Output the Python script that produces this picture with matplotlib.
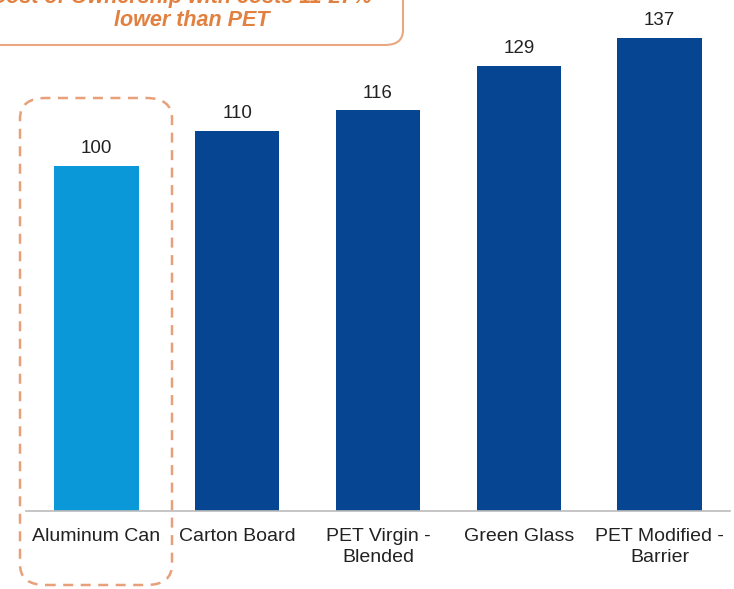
import matplotlib.pyplot as plt
from matplotlib.patches import FancyBboxPatch

categories = ["Aluminum Can", "Carton Board", "PET Virgin -\nBlended", "Green Glass", "PET Modified -\nBarrier"]
values = [100, 110, 116, 129, 137]
colors = ["#0A98D8", "#054591", "#054591", "#054591", "#054591"]
note_top = "Lowest Total Cost of Ownership with costs 11-27%"
note_bottom = "lower than PET"

W, H = 734, 589
fig = plt.figure(figsize=(W / 100, H / 100), dpi=100)
ax = fig.add_axes([26 / W, (H - 511) / H, 704 / W, 511 / H])

x = range(len(categories))
ax.bar(x, values, width=0.6, color=colors)
for i, v in enumerate(values):
    ax.text(i, v + 2.6, str(v), ha="center", va="bottom", fontsize=13.5, color="#222222",
            family="Liberation Sans")

ax.set_xlim(-0.5, 4.5)
ax.set_ylim(0, 148)
ax.set_xticks(list(x))
ax.set_xticklabels(categories, fontsize=14, family="Liberation Sans", color="#222222",
                   linespacing=1.3)
ax.tick_params(axis="x", length=0, pad=12)
ax.set_yticks([])
for s in ["top", "left", "right"]:
    ax.spines[s].set_visible(False)
ax.spines["bottom"].set_color("#BBBBBB")
ax.spines["bottom"].set_linewidth(1.2)

# callout box at the top (partially cut off)
def px(x0, y0):
    return x0 / W, 1 - y0 / H

bx, by = px(-20, 45)
box = FancyBboxPatch((bx, by), 423 / W, 80 / H, boxstyle="round,pad=0,rounding_size=0.025",
                     transform=fig.transFigure, facecolor="white", edgecolor="#E8A77E",
                     linewidth=1.5, clip_on=False)
fig.patches.append(box)
style = dict(fontsize=15.5, fontweight="bold", fontstyle="italic", color="#E2803F",
             family="Liberation Sans")
tx, ty = px(372, -2)
fig.text(tx, ty, note_top, ha="right", va="center", **style)
tx, ty = px(192, 21)
fig.text(tx, ty, note_bottom, ha="center", va="center", **style)

# dashed highlight around the first bar
dx, dy = px(20, 585)
dash = FancyBboxPatch((dx, dy), 152 / W, 487 / H, boxstyle="round,pad=0,rounding_size=0.035",
                      transform=fig.transFigure, facecolor="none", edgecolor="#E8A07A",
                      linewidth=1.8, linestyle=(0, (4, 3)), clip_on=False, zorder=5)
fig.patches.append(dash)

fig.savefig("out.png", dpi=100)
